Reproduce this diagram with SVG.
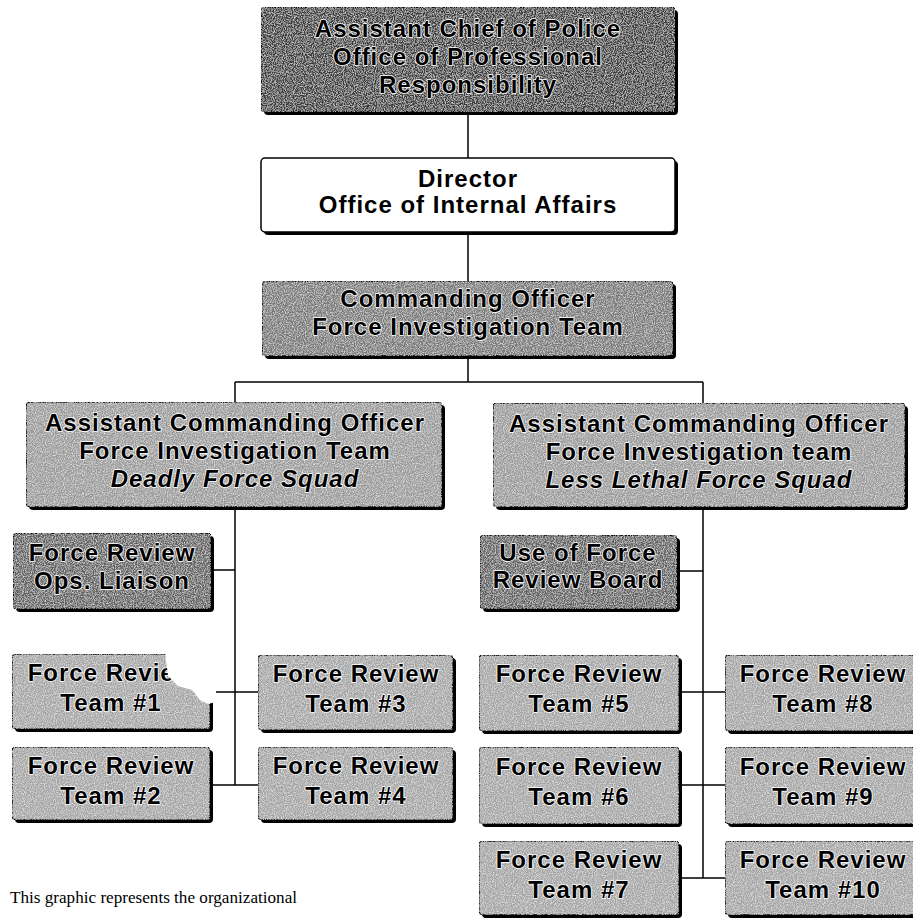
<svg xmlns="http://www.w3.org/2000/svg" width="913" height="919" viewBox="0 0 913 919">
<defs>
<filter id="grain" x="0" y="0" width="100%" height="100%">
<feTurbulence type="fractalNoise" baseFrequency="0.9" numOctaves="2" seed="3" result="n"/>
<feColorMatrix in="n" type="matrix" values="0 0 0 0 1  0 0 0 0 1  0 0 0 0 1  1.4 0 0 0 -0.55" result="w"/>
<feComposite in="w" in2="SourceGraphic" operator="in" result="wm"/>
<feMerge><feMergeNode in="SourceGraphic"/><feMergeNode in="wm"/></feMerge>
</filter>
</defs>
<style>
.sh{fill:#000}
.bx{stroke:#000;stroke-width:1.5}
.dark{fill:#3a3a3a}
.mid{fill:#787878}
.lt{fill:#9a9a9a}
.op{fill:#606060}
.tm{fill:#a4a4a4}
.wh{fill:#fff}
.t{font-family:"Liberation Sans",Arial,sans-serif;font-weight:bold;font-size:24px;letter-spacing:1px;text-anchor:middle;fill:#000;stroke:#fff;stroke-width:1.6px;paint-order:stroke;stroke-linejoin:round}
.tw{stroke:none}
.it{font-style:italic}
.cn{stroke:#000;stroke-width:1.5;fill:none}
.cap{font-family:"Liberation Serif","Times New Roman",serif;font-size:16px;fill:#000}
</style>
<g id="connectors">
<path class="cn" d="M468 112V158M468 232V281M468 356V382M235 382H703M235 382V402M703 382V403M235 507V785M703 507V878M211 570H235M677 571H703M210 692H258M210 785H258M679 692H725M679 785H725M679 878H725"/>
</g>
<g id="acop">
<rect class="sh" x="264" y="10" width="414" height="105" rx="4"/>
<rect class="bx dark" x="261" y="7" width="414" height="105" rx="4" filter="url(#grain)"/>
<text class="t" x="468" y="37">Assistant Chief of Police</text>
<text class="t" x="468" y="65">Office of Professional</text>
<text class="t" x="468" y="93">Responsibility</text>
</g>
<g id="director">
<rect class="sh" x="264" y="161" width="414" height="74" rx="4"/>
<rect class="bx wh" x="261" y="158" width="414" height="74" rx="4"/>
<text class="t tw" x="468" y="187">Director</text>
<text class="t tw" x="468" y="213">Office of Internal Affairs</text>
</g>
<g id="co">
<rect class="sh" x="265" y="284" width="411" height="75" rx="4"/>
<rect class="bx mid" x="262" y="281" width="411" height="75" rx="4" filter="url(#grain)"/>
<text class="t" x="468" y="307">Commanding Officer</text>
<text class="t" x="468" y="335">Force Investigation Team</text>
</g>
<g id="aco-left">
<rect class="sh" x="29" y="405" width="416" height="105" rx="4"/>
<rect class="bx lt" x="26" y="402" width="416" height="105" rx="4" filter="url(#grain)"/>
<text class="t" x="235" y="431">Assistant Commanding Officer</text>
<text class="t" x="235" y="459">Force Investigation Team</text>
<text class="t it" x="235" y="487">Deadly Force Squad</text>
</g>
<g id="aco-right">
<rect class="sh" x="496" y="406" width="412" height="104" rx="4"/>
<rect class="bx lt" x="493" y="403" width="412" height="104" rx="4" filter="url(#grain)"/>
<text class="t" x="699" y="432">Assistant Commanding Officer</text>
<text class="t" x="699" y="460">Force Investigation team</text>
<text class="t it" x="699" y="488">Less Lethal Force Squad</text>
</g>
<g id="fr-ops">
<rect class="sh" x="16" y="536" width="198" height="76" rx="4"/>
<rect class="bx op" x="13" y="533" width="198" height="76" rx="4" filter="url(#grain)"/>
<text class="t" x="112" y="561">Force Review</text>
<text class="t" x="112" y="589">Ops. Liaison</text>
</g>
<g id="uof">
<rect class="sh" x="483" y="538" width="197" height="74" rx="4"/>
<rect class="bx op" x="480" y="535" width="197" height="74" rx="4" filter="url(#grain)"/>
<text class="t" x="578" y="561">Use of Force</text>
<text class="t" x="578" y="588">Review Board</text>
</g>
<g id="team1">
<rect class="sh" x="15" y="657" width="198" height="75" rx="4"/>
<rect class="bx tm" x="12" y="654" width="198" height="75" rx="4" filter="url(#grain)"/>
<text class="t" x="111" y="681">Force Review</text>
<text class="t" x="111" y="711">Team #1</text>
<path d="M165 652H216V702L208 704L200 700L192 690L178 686L168 676Z" fill="#fff"/>
</g>
<g id="team2">
<rect class="sh" x="15" y="750" width="198" height="73" rx="4"/>
<rect class="bx tm" x="12" y="747" width="198" height="73" rx="4" filter="url(#grain)"/>
<text class="t" x="111" y="774">Force Review</text>
<text class="t" x="111" y="804">Team #2</text>
</g>
<g id="team3">
<rect class="sh" x="261" y="658" width="195" height="75" rx="4"/>
<rect class="bx tm" x="258" y="655" width="195" height="75" rx="4" filter="url(#grain)"/>
<text class="t" x="356" y="682">Force Review</text>
<text class="t" x="356" y="712">Team #3</text>
</g>
<g id="team4">
<rect class="sh" x="261" y="750" width="195" height="73" rx="4"/>
<rect class="bx tm" x="258" y="747" width="195" height="73" rx="4" filter="url(#grain)"/>
<text class="t" x="356" y="774">Force Review</text>
<text class="t" x="356" y="804">Team #4</text>
</g>
<g id="team5">
<rect class="sh" x="482" y="658" width="200" height="76" rx="4"/>
<rect class="bx tm" x="479" y="655" width="200" height="76" rx="4" filter="url(#grain)"/>
<text class="t" x="579" y="682">Force Review</text>
<text class="t" x="579" y="712">Team #5</text>
</g>
<g id="team6">
<rect class="sh" x="482" y="750" width="200" height="77" rx="4"/>
<rect class="bx tm" x="479" y="747" width="200" height="77" rx="4" filter="url(#grain)"/>
<text class="t" x="579" y="775">Force Review</text>
<text class="t" x="579" y="805">Team #6</text>
</g>
<g id="team7">
<rect class="sh" x="482" y="844" width="200" height="74" rx="4"/>
<rect class="bx tm" x="479" y="841" width="200" height="74" rx="4" filter="url(#grain)"/>
<text class="t" x="579" y="868">Force Review</text>
<text class="t" x="579" y="898">Team #7</text>
</g>
<g id="team8">
<rect class="sh" x="728" y="658" width="196" height="76" rx="4"/>
<rect class="bx tm" x="725" y="655" width="196" height="76" rx="4" filter="url(#grain)"/>
<text class="t" x="823" y="682">Force Review</text>
<text class="t" x="823" y="712">Team #8</text>
</g>
<g id="team9">
<rect class="sh" x="728" y="750" width="196" height="77" rx="4"/>
<rect class="bx tm" x="725" y="747" width="196" height="77" rx="4" filter="url(#grain)"/>
<text class="t" x="823" y="775">Force Review</text>
<text class="t" x="823" y="805">Team #9</text>
</g>
<g id="team10">
<rect class="sh" x="728" y="844" width="196" height="74" rx="4"/>
<rect class="bx tm" x="725" y="841" width="196" height="74" rx="4" filter="url(#grain)"/>
<text class="t" x="823" y="868">Force Review</text>
<text class="t" x="823" y="898">Team #10</text>
</g>
<text class="cap" x="10" y="903" textLength="287" lengthAdjust="spacingAndGlyphs">This graphic represents the organizational</text>
</svg>
